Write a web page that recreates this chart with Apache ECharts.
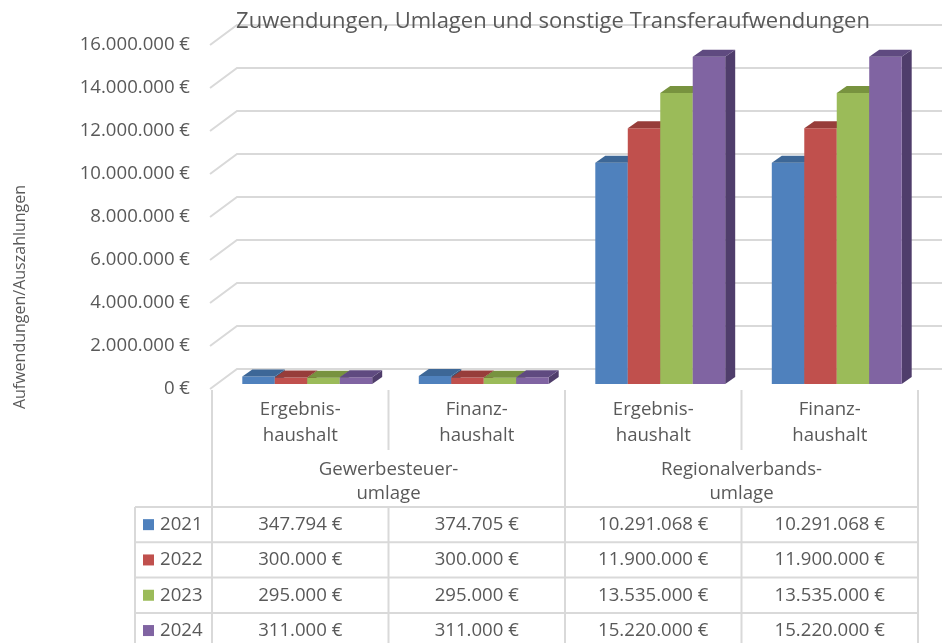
<!DOCTYPE html>
<html>
<head>
<meta charset="utf-8">
<script src="https://cdn.jsdelivr.net/npm/echarts@6/dist/echarts.min.js"></script>
<style>
html, body { margin: 0; padding: 0; background: #fff; }
#chart { width: 942px; height: 643px; }
</style>
</head>
<body>
<div id="chart"></div>
<script>
(function () {
	"use strict";

	/*----- data -----*/
	var categories = ['Ergebnis-\nhaushalt', 'Finanz-\nhaushalt', 'Ergebnis-\nhaushalt', 'Finanz-\nhaushalt'];
	var groups = ['Gewerbesteuer-\numlage', 'Regionalverbands-\numlage'];
	var years = ['2021', '2022', '2023', '2024'];
	var values2021 = [347794, 374705, 10291068, 10291068];
	var values2022 = [300000, 300000, 11900000, 11900000];
	var values2023 = [295000, 295000, 13535000, 13535000];
	var values2024 = [311000, 311000, 15220000, 15220000];
	var yTicks = [0, 2000000, 4000000, 6000000, 8000000, 10000000, 12000000, 14000000, 16000000];

	var seriesValues = [values2021, values2022, values2023, values2024];
	var colors = ['#4f81bd', '#c0504d', '#9bbb59', '#8064a2'];
	var topColors = ['#3d6797', '#973d3a', '#78933f', '#5f4a80'];
	var sideColors = ['#36597f', '#7f3330', '#637a34', '#4f3d6b'];

	var textColor = '#595959';
	var lineColor = '#d9d9d9';
	var font = '"Open Sans", sans-serif';
	var fs = 18.6;

	// layout of plot front plane
	var GL = 212, GR = 918, GT = 45, GB = 389;
	var WALL_DX = 27, WALL_DY = -20;
	var BAR_DX = 7, BAR_DY = -5;
	var DEPTH_DX = 10, DEPTH_DY = -7;

	function fmt(v) {
		return String(v).replace(/\B(?=(\d{3})+(?!\d))/g, '.') + ' €';
	}

	/*----- gridlines (slanted side wall + back wall) -----*/
	var gridSeries = {
		type: 'custom',
		silent: true,
		z: 1,
		data: yTicks.map(function (t) { return [0, t]; }),
		renderItem: function (params, api) {
			var p = api.coord([0, api.value(1)]);
			var catW = api.size([1, 0])[0];
			var x0 = p[0] - catW / 2 - 2;
			var y = p[1];
			return {
				type: 'polyline',
				shape: { points: [[x0, y], [x0 + WALL_DX, y + WALL_DY], [942, y + WALL_DY]] },
				style: { stroke: lineColor, lineWidth: 2, fill: null }
			};
		}
	};

	/*----- 3d bars -----*/
	function barSeries(idx) {
		return {
			type: 'custom',
			name: years[idx],
			z: 2,
			data: seriesValues[idx].map(function (v, c) { return [c, v]; }),
			renderItem: function (params, api) {
				var base = api.coord([api.value(0), 0]);
				var top = api.coord([api.value(0), api.value(1)]);
				var catW = api.size([1, 0])[0];
				var bw = catW * 0.184;
				var x1 = base[0] - bw * 2 + idx * bw + BAR_DX;
				var x2 = x1 + bw;
				var yb = base[1] + BAR_DY;
				var yt = top[1] + BAR_DY;
				return {
					type: 'group',
					children: [
						{
							type: 'polygon',
							shape: { points: [[x2, yb], [x2 + DEPTH_DX, yb + DEPTH_DY], [x2 + DEPTH_DX, yt + DEPTH_DY], [x2, yt]] },
							style: { fill: sideColors[idx] }
						},
						{
							type: 'rect',
							shape: { x: x1, y: yt, width: bw, height: yb - yt },
							style: { fill: colors[idx] }
						},
						{
							type: 'polygon',
							shape: { points: [[x1, yt], [x1 + DEPTH_DX, yt + DEPTH_DY], [x2 + DEPTH_DX, yt + DEPTH_DY], [x2, yt]] },
							style: { fill: topColors[idx] }
						}
					]
				};
			}
		};
	}

	/*----- data table below the plot -----*/
	var colW = (GR - GL) / 4;
	var rowTop = 507, rowH = 35.3, legendL = 135;
	var graphics = [];

	function line(x1, y1, x2, y2) {
		graphics.push({
			type: 'line', silent: true,
			shape: { x1: x1, y1: y1, x2: x2, y2: y2 },
			style: { stroke: lineColor, lineWidth: 2 }
		});
	}
	function text(str, x, y, align, lh) {
		graphics.push({
			type: 'text', silent: true, x: x, y: y,
			style: {
				text: str, fill: textColor, font: fs + 'px ' + font,
				align: align || 'center', verticalAlign: 'middle', lineHeight: lh || 24
			}
		});
	}

	// vertical lines
	[0, 2, 4].forEach(function (c) { line(GL + c * colW, GB + 1, GL + c * colW, 643); });
	[1, 3].forEach(function (c) {
		line(GL + c * colW, GB + 1, GL + c * colW, 450);
		line(GL + c * colW, rowTop, GL + c * colW, 643);
	});
	line(legendL, rowTop, legendL, 643);
	// horizontal lines
	for (var r = 0; r < 4; r++) {
		line(legendL, rowTop + r * rowH, GR, rowTop + r * rowH);
	}
	// group labels
	groups.forEach(function (g, i) {
		text(g, GL + colW * (2 * i + 1), 482, 'center', 24);
	});
	// rows
	years.forEach(function (yr, i) {
		var cy = rowTop + rowH * i + rowH / 2;
		graphics.push({
			type: 'rect', silent: true,
			shape: { x: 143, y: cy - 5.5, width: 11, height: 11 },
			style: { fill: colors[i] }
		});
		text(yr, 160, cy, 'left');
		seriesValues[i].forEach(function (v, c) {
			text(fmt(v), GL + colW * c + colW / 2, cy, 'center');
		});
	});
	// y axis name
	graphics.push({
		type: 'text', silent: true, x: 20, y: 297, rotation: Math.PI / 2,
		style: {
			text: 'Aufwendungen/Auszahlungen', fill: textColor, font: '16px ' + font,
			align: 'center', verticalAlign: 'middle'
		}
	});

	var option = {
		animation: false,
		title: {
			text: 'Zuwendungen, Umlagen und sonstige Transferaufwendungen',
			left: 548,
			top: 6,
			textAlign: 'center',
			textStyle: { color: textColor, fontSize: 22, fontWeight: 'normal', fontFamily: font }
		},
		grid: { left: GL, right: 942 - GR, top: GT, bottom: 643 - GB },
		xAxis: {
			type: 'category',
			data: categories,
			axisLine: { show: false },
			axisTick: { show: false },
			axisLabel: {
				color: textColor, fontSize: fs, fontFamily: font,
				lineHeight: 26, margin: 8, interval: 0
			}
		},
		yAxis: {
			type: 'value',
			min: 0,
			max: 16000000,
			interval: 2000000,
			splitLine: { show: false },
			axisLine: { show: false },
			axisTick: { show: false },
			axisLabel: {
				color: textColor, fontSize: fs, fontFamily: font, margin: 22,
				padding: [7, 0, 0, 0],
				formatter: function (v) { return fmt(v); }
			}
		},
		graphic: graphics,
		series: [gridSeries, barSeries(0), barSeries(1), barSeries(2), barSeries(3)]
	};

	var chart = echarts.init(document.getElementById('chart'));
	chart.setOption(option);
})();
</script>
</body>
</html>
